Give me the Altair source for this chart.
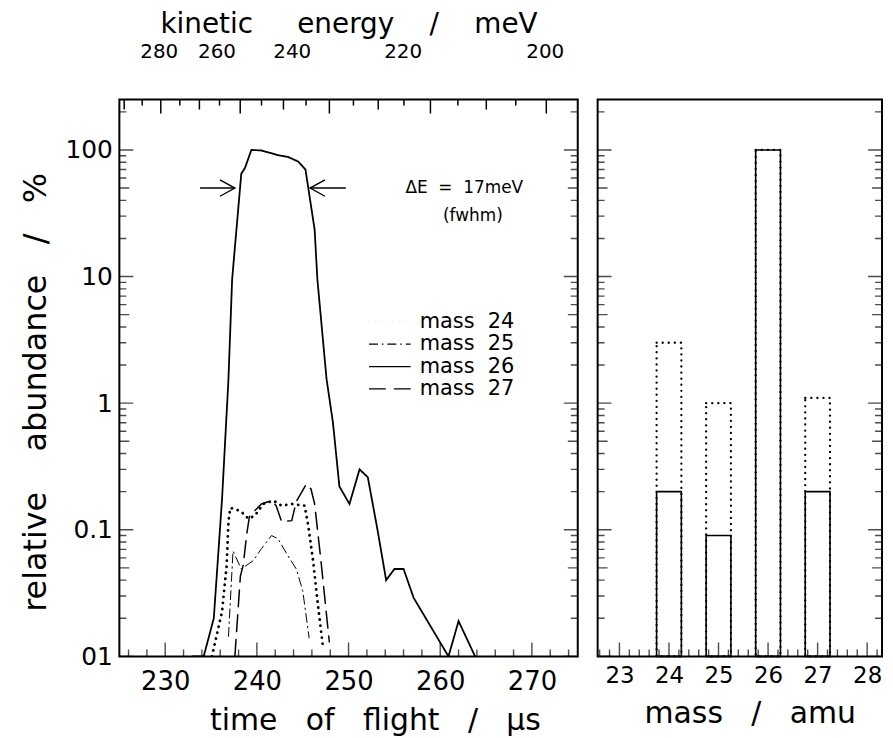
import math
import altair as alt
import pandas as pd

FONT = "DejaVu Sans"
NB = "\u00a0"

# ---------------- data: time-of-flight spectra (relative abundance / %) ----------------
tof_24 = [235.1, 236.2, 236.7, 236.9, 237.1, 238.2, 239.1, 239.8, 240.7, 241.8, 242.7, 243.8, 245.2, 245.6, 246.1, 246.7, 247.2]
ab_24 = [0.01, 0.0226, 0.052, 0.116, 0.149, 0.141, 0.122, 0.13, 0.16, 0.17, 0.155, 0.16, 0.155, 0.108, 0.059, 0.024, 0.012]

tof_25 = [236.9, 237.4, 238.3, 239.6, 240.5, 241.6, 242.3, 243.4, 244.3, 245.0, 245.7]
ab_25 = [0.0144, 0.068, 0.049, 0.057, 0.071, 0.09, 0.085, 0.062, 0.049, 0.033, 0.014]

tof_26 = [233.0, 234.2, 235.3, 236.2, 236.9, 237.3, 238.3, 238.7, 239.4, 240.5, 242.3, 243.4, 244.5, 245.3,
          246.3, 246.6, 247.6, 248.3, 249.0, 250.1, 251.2, 252.1, 253.2, 254.1, 255.0, 256.0, 257.1, 260.9,
          262.0, 263.8]
ab_26 = [0.01, 0.01, 0.02, 0.175, 1.55, 9.5, 65, 72, 100, 99, 91, 88, 81, 70,
         23.5, 9.5, 1.55, 0.70, 0.22, 0.16, 0.30, 0.26, 0.096, 0.040, 0.049, 0.049, 0.029, 0.01,
         0.019, 0.01]

tof_27 = [237.6, 238.2, 238.5, 238.9, 239.2, 240.5, 241.6, 242.1, 242.7, 243.8, 244.3, 245.4, 245.9, 246.3, 247.0, 247.9]
ab_27 = [0.01, 0.043, 0.052, 0.093, 0.129, 0.16, 0.17, 0.155, 0.116, 0.118, 0.167, 0.23, 0.21, 0.16, 0.056, 0.013]

series_names = ["mass" + NB * 2 + "24", "mass" + NB * 2 + "25", "mass" + NB * 2 + "26", "mass" + NB * 2 + "27"]

# ---------------- data: mass spectrum (relative abundance / %) ----------------
bar_mass = [24, 25, 26, 27]
bar_dotted = [3.0, 1.0, 100.0, 1.1]
bar_solid = [0.2, 0.09, 100.0, 0.2]

# ---------------- tick labels ----------------
tof_ticks = [230, 240, 250, 260, 270]
energy_labels = ["280", "260", "240", "220", "200"]
energy_label_tof = [229.3, 235.6, 243.8, 255.9, 271.4]   # where the printed labels sit (time-of-flight units)
abund_ticks = [0.01, 0.1, 1, 10, 100]
mass_ticks = [23, 24, 25, 26, 27, 28]

# kinetic energy  E = K / t^2   (meV, t in microseconds) -> tick marks of the top axis
K_E = 14.75e6

# annotation: FWHM arrows at half maximum
fwhm_left = [233.8, 237.6]
fwhm_right = [249.7, 245.8]
half_max = 50.0
notes_t = [256.2, 260.3]
notes_v = [50.0, 30.0]
notes_txt = ["\u0394E" + NB * 2 + "=" + NB * 2 + "17meV", "(fwhm)"]

# ---------------- geometry / style ----------------
W1, H = 461, 560
W2 = 286
TOF_DOM = [225, 275]
MASS_DOM = [22.56, 28.3]
AB_DOM = [0.01, 250]
PX_PER_DECADE = H / math.log10(AB_DOM[1] / AB_DOM[0])

def xs1():
    return alt.Scale(domain=TOF_DOM, nice=False, zero=False)

def xs2():
    return alt.Scale(domain=MASS_DOM, nice=False, zero=False)

def ys():
    return alt.Scale(type="log", domain=AB_DOM, nice=False)

Y_AXIS = alt.Axis(
    orient="left", values=abund_ticks, ticks=False, tickSize=0, domain=False, grid=False,
    labelExpr="datum.value == 0.01 ? '01' : format(datum.value, '~g')",
    labelFontSize=25, labelPadding=7, labelOverlap=False,
    title=("relative" + NB * 4 + "abundance" + NB * 3 + "/" + NB * 3 + "%"),
    titleFontSize=32, titlePadding=13, titleY=294)

MASS_AXIS = alt.Axis(
    orient="bottom", values=mass_ticks, format="d", ticks=False, tickSize=0, domain=False, grid=False,
    labelFontSize=23, labelPadding=8, labelOverlap=False,
    title=("mass" + NB * 3 + "/" + NB * 3 + "amu"), titleFontSize=30, titlePadding=11, titleX=153)

energy_expr = ""
for pos, txt in zip(energy_label_tof, energy_labels):
    energy_expr += "abs(datum.value - %r) < 0.05 ? '%s' : " % (pos, txt)
energy_expr += "''"

TOP_AXIS = alt.Axis(
    orient="top", values=energy_label_tof, labelExpr=energy_expr,
    ticks=False, tickSize=0, domain=False, grid=False, labelFontSize=20, labelPadding=38,
    labelOverlap=False,
    title=("kinetic" + NB * 5 + "energy" + NB * 4 + "/" + NB * 4 + "meV"),
    titleFontSize=28, titlePadding=3)

# ---------------- tables ----------------
rows = []
widths = [2.8, 1.0, 1.8, 1.5]
for name, w, ts, vs in zip(series_names, widths, [tof_24, tof_25, tof_26, tof_27], [ab_24, ab_25, ab_26, ab_27]):
    for i, (t, v) in enumerate(zip(ts, vs)):
        rows.append({"series": name, "t": t, "v": v, "i": i, "w": w})
lines_df = pd.DataFrame(rows)

ytick_rows = []
for d in [0.01, 0.1, 1, 10, 100]:
    for m in range(1, 10):
        v = m * d
        if v <= AB_DOM[1]:
            L = 14 if m == 1 else (10 if m == 5 else 7)
            ytick_rows.append({"v": v, "len2": 2 * L})
ytick_df = pd.DataFrame(ytick_rows)

xt_rows = []
for t in range(226, 275, 2):
    L = 14 if t % 10 == 0 else 7
    xt_rows.append({"t": t, "len2": 2 * L})
xtick_df = pd.DataFrame(xt_rows)

# top (energy) ticks: two-point segments from the top edge down by L pixels (on the abundance scale)
et_rows = []
for E in range(190, 300, 5):
    t = math.sqrt(K_E / E)
    if TOF_DOM[0] < t < TOF_DOM[1]:
        L = 14 if E % 20 == 0 else (10 if E % 10 == 0 else 6)
        et_rows.append({"t": t, "v": AB_DOM[1] * 0.999, "g": "E%d" % E})
        et_rows.append({"t": t, "v": AB_DOM[1] / 10 ** (L / PX_PER_DECADE), "g": "E%d" % E})
etick_df = pd.DataFrame(et_rows)

mt_rows = []
for k in range(113, 142):
    m = k / 5.0
    if MASS_DOM[0] < m < MASS_DOM[1]:
        L = 14 if k % 5 == 0 else 7
        mt_rows.append({"lo": m, "len2": 2 * L})
mtick_df = pd.DataFrame(mt_rows)

arrow_df = pd.DataFrame({
    "t": fwhm_left + fwhm_right,
    "v": [half_max] * 4,
    "g": ["l", "l", "r", "r"],
})
head_df = pd.DataFrame({"t": [fwhm_left[1], fwhm_right[1]], "v": [half_max, half_max], "dir": ["right", "left"]})
notes_df = pd.DataFrame({"t": notes_t, "v": notes_v, "txt": notes_txt})

bar_rows = []
for m, v in zip(bar_mass, bar_dotted):
    bar_rows.append({"mass": m, "v": v, "kind": "dotted"})
for m, v in zip(bar_mass, bar_solid):
    bar_rows.append({"mass": m, "v": v, "kind": "solid"})
bars_df = pd.DataFrame(bar_rows)

# ---------------- left panel ----------------
dash_range = [[0.1, 6.0], [9, 4, 1.5, 4], [1, 0], [17, 8]]

lines = alt.Chart(lines_df).mark_line(clip=True, color="black", strokeCap="round").encode(
    x=alt.X("t:Q", scale=xs1(), axis=alt.Axis(
        orient="bottom", values=tof_ticks, format="d", ticks=False, tickSize=0, domain=False, grid=False,
        labelFontSize=26, labelPadding=12, labelOverlap=False,
        title=("time" + NB * 3 + "of" + NB * 3 + "flight" + NB * 3 + "/" + NB * 3 + "\u00b5s"),
        titleFontSize=30, titlePadding=12, titleX=257)),
    y=alt.Y("v:Q", scale=ys(), axis=Y_AXIS),
    strokeDash=alt.StrokeDash("series:N", scale=alt.Scale(domain=series_names, range=dash_range),
                              legend=alt.Legend(
                                  title=None, orient="none", legendX=260.5, legendY=212,
                                  symbolType="M-2,0L2,0", symbolSize=440, symbolStrokeWidth=1.3,
                                  symbolStrokeColor="black", labelFontSize=21, labelOffset=18.5,
                                  rowPadding=0.5, padding=0, labelColor="black")),
    strokeWidth=alt.StrokeWidth("w:Q", scale=None, legend=None),
    order="i:Q",
)

def ytick_layer(xpix, df, axis):
    return alt.Chart(df).mark_tick(orient="horizontal", clip=True, color="black", thickness=1.4).encode(
        y=alt.Y("v:Q", scale=ys(), axis=axis),
        x=alt.value(xpix),
        size=alt.Size("len2:Q", scale=None),
    )

bottom_ticks = alt.Chart(xtick_df).mark_tick(orient="vertical", clip=True, color="black", thickness=1.4).encode(
    x=alt.X("t:Q", scale=xs1(), axis=None), y=alt.value(H),
    size=alt.Size("len2:Q", scale=None))

top_ticks = alt.Chart(etick_df).mark_line(color="black", strokeWidth=1.5).encode(
    x=alt.X("t:Q", scale=xs1(), axis=None),
    y=alt.Y("v:Q", scale=ys(), axis=Y_AXIS), detail="g:N")

top_axis_layer = alt.Chart(pd.DataFrame({"t": energy_label_tof})).mark_point(opacity=0, size=1).encode(
    x=alt.X("t:Q", scale=xs1(), axis=TOP_AXIS), y=alt.value(0))

arrows = alt.Chart(arrow_df).mark_line(color="black", strokeWidth=1.4).encode(
    x=alt.X("t:Q", scale=xs1(), axis=None), y=alt.Y("v:Q", scale=ys(), axis=Y_AXIS), detail="g:N")

heads = alt.Chart(head_df).mark_point(filled=False, color="black", strokeWidth=1.4, size=900, opacity=1).encode(
    x=alt.X("t:Q", scale=xs1(), axis=None), y=alt.Y("v:Q", scale=ys(), axis=Y_AXIS),
    shape=alt.Shape("dir:N", scale=alt.Scale(domain=["right", "left"],
                                             range=["M-1,-0.55L0,0L-1,0.55", "M1,-0.55L0,0L1,0.55"]),
                    legend=None))

notes = alt.Chart(notes_df).mark_text(align="left", baseline="middle", fontSize=17, font=FONT, color="black").encode(
    x=alt.X("t:Q", scale=xs1(), axis=None), y=alt.Y("v:Q", scale=ys(), axis=Y_AXIS), text="txt:N")

left = alt.layer(
    lines, ytick_layer(0, ytick_df, Y_AXIS), ytick_layer(W1, ytick_df, Y_AXIS), bottom_ticks,
    top_ticks, top_axis_layer, arrows, heads, notes
).resolve_scale(x="independent").properties(width=W1, height=H)

# ---------------- right panel ----------------
bars_base = alt.Chart(bars_df).transform_calculate(
    lo="datum.mass - 0.25", hi="datum.mass + 0.25", base="0.01")

dotted_bars = bars_base.transform_filter("datum.kind == 'dotted'").mark_rect(
    fillOpacity=0, stroke="black", strokeWidth=2.3, strokeDash=[0.1, 6], strokeCap="round").encode(
    x=alt.X("lo:Q", scale=xs2(), axis=MASS_AXIS), x2="hi:Q",
    y=alt.Y("v:Q", scale=ys(), axis=None), y2="base:Q")

solid_bars = bars_base.transform_filter("datum.kind == 'solid'").mark_rect(
    fillOpacity=0, stroke="black", strokeWidth=1.6).encode(
    x=alt.X("lo:Q", scale=xs2(), axis=MASS_AXIS), x2="hi:Q",
    y=alt.Y("v:Q", scale=ys(), axis=None), y2="base:Q")

mass_bottom_ticks = alt.Chart(mtick_df).mark_tick(orient="vertical", clip=True, color="black", thickness=1.4).encode(
    x=alt.X("lo:Q", scale=xs2(), axis=MASS_AXIS), y=alt.value(H), size=alt.Size("len2:Q", scale=None))

right = alt.layer(
    dotted_bars, solid_bars, ytick_layer(0, ytick_df, None), ytick_layer(W2, ytick_df, None), mass_bottom_ticks
).properties(width=W2, height=H)

chart = alt.hconcat(left, right, spacing=20, bounds="flush").properties(
    padding={"left": 10, "top": 0, "right": 2, "bottom": 0}
).configure_view(stroke="black", strokeWidth=2).configure_axis(
    labelFont=FONT, titleFont=FONT, titleFontWeight="normal", labelColor="black", titleColor="black"
).configure_legend(labelFont=FONT)

chart.save("out.html", embed_options={"renderer": "svg", "actions": False})
